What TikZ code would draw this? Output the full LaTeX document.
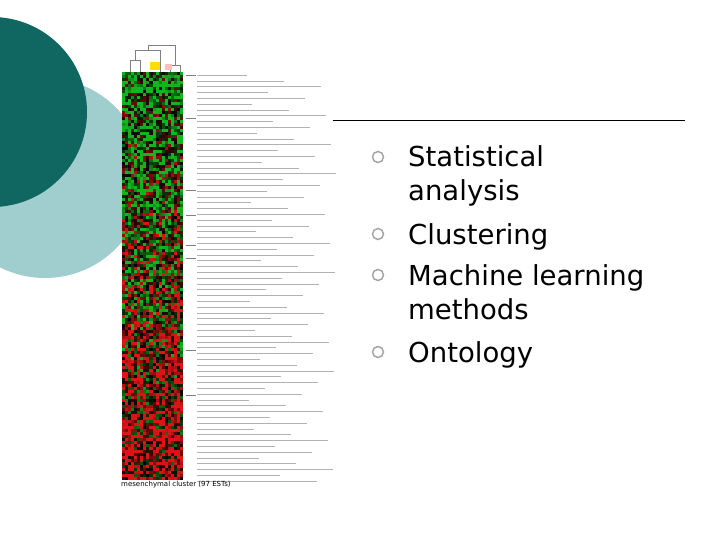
\documentclass[tikz,border=0pt]{standalone}
\usepackage{fontspec}
\setmainfont{DejaVu Sans}
\definecolor{darkteal}{RGB}{16,102,96}
\definecolor{lightteal}{RGB}{160,206,206}
\definecolor{hmred}{RGB}{220,20,20}
\definecolor{hmgreen}{RGB}{20,180,30}
\begin{document}
\begin{tikzpicture}[x=1pt,y=-1pt,
  bul/.style={circle,draw=gray!70,line width=1.5pt,minimum size=11pt,inner sep=0pt},
  btext/.style={anchor=base west,font=\fontsize{27.5}{27.5}\selectfont,text=black,inner sep=0pt},
  lab/.style={draw=gray!60,line width=0.5pt}]
\useasboundingbox (0,0) rectangle (720,540);
\fill[white] (0,0) rectangle (720,540);
\fill[lightteal] (45,178) circle (100);
\fill[darkteal] (-8,112) circle (95);
\draw[line width=0.8pt] (333,120) coordinate (l1) -- (685,120) coordinate (l2);
% heatmap
\pgfmathsetseed{7}
\foreach \r in {0,...,135}{
  \foreach \c in {0,...,19}{
    \pgfmathsetmacro{\v}{rand+ (\r-68)/110}
    \pgfmathsetmacro{\p}{min(100,abs(\v)*130)}
    \pgfmathparse{\v>0?1:0}
    \ifnum\pgfmathresult=1
      \fill[hmred!\p!black] (122+\c*3.05,72+\r*3) rectangle ++(3.05,3);
    \else
      \fill[hmgreen!\p!black] (122+\c*3.05,72+\r*3) rectangle ++(3.05,3);
    \fi
  }
}
% dendrogram top
\draw[gray,line width=0.4pt] (130,72)--(130,60)--(140,60)--(140,72) (135,60)--(135,50)--(160,50)--(160,72) (148,50)--(148,45)--(175,45)--(175,65)--(170,65)--(170,72) (175,65)--(180,65)--(180,72);
\fill[yellow!80!orange] (150,62) rectangle (160,70);
\fill[pink] (165,64) rectangle (172,70);
% label lines
\foreach \i in {0,...,70}{
  \pgfmathsetmacro{\w}{50+mod(\i*37,90)}
  \draw[lab] (197,75+\i*5.8) -- ++(\w,0);
}
\foreach \y in {75,118,190,215,245,258,350,395} \draw[gray,line width=0.4pt] (186,\y)--(196,\y);
\node[anchor=west,font=\fontsize{7}{7}\selectfont,inner sep=0pt] (cap) at (121,485) {mesenchymal cluster (97 ESTs)};
% bullets
\node[bul] (b1) at (378,157) {};
\node[btext] (t1) at (408,167) {Statistical};
\node[btext] (t1b) at (408,201) {analysis};
\node[bul] (b2) at (378,234) {};
\node[btext] (t2) at (408,244) {Clustering};
\node[bul] (b3) at (378,275) {};
\node[btext] (t3) at (408,285) {Machine learning};
\node[btext] (t3b) at (408,319) {methods};
\node[bul] (b4) at (378,352) {};
\node[btext] (t4) at (408,362) {Ontology};
\end{tikzpicture}
\end{document}
